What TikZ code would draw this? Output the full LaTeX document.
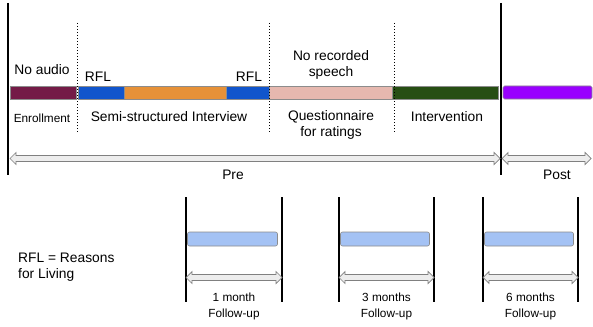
\documentclass[tikz,border=0pt]{standalone}
\usepackage{fontspec}
\setmainfont{Liberation Sans}
\usepackage{tikz}
\usetikzlibrary{positioning}

\definecolor{enrcol}{HTML}{741B47}
\definecolor{rflcol}{HTML}{1155CC}
\definecolor{intcol}{HTML}{E69138}
\definecolor{quecol}{HTML}{E6B8AF}
\definecolor{trtcol}{HTML}{274E13}
\definecolor{postcol}{HTML}{9900FF}
\definecolor{fupcol}{HTML}{A4C2F4}

% block arrow with two heads from x=#1 to x=#2 at height #3
\newcommand{\twoway}[3]{%
  \draw[span] (#1,#3) -- (#1+6,#3-6) -- (#1+6,#3-3) -- (#2-6,#3-3) -- (#2-6,#3-6)
    -- (#2,#3) -- (#2-6,#3+6) -- (#2-6,#3+3) -- (#1+6,#3+3) -- (#1+6,#3+6) -- cycle;}

\begin{document}
\begin{tikzpicture}[x=1pt, y=-1pt,
  txt/.style={inner sep=0pt, font=\fontsize{13.8}{16}\selectfont, align=center},
  small/.style={inner sep=0pt, font=\fontsize{11.8}{16}\selectfont, align=center},
  seg/.style={draw=black!45, line width=0.6pt},
  span/.style={draw=black!50, fill=black!7, line width=0.7pt, line join=miter},
  phase/.style={line width=1.2pt},
  split/.style={dotted, line width=1pt}]
  \useasboundingbox (0,0) rectangle (593,326);

  % timeline bar
  \draw[seg, fill=enrcol] (10,86) rectangle (76,99);
  \draw[seg, fill=rflcol] (78,86) rectangle (124,99);
  \draw[seg, fill=intcol] (124,86) rectangle (226,99);
  \draw[seg, fill=rflcol] (226,86) rectangle (269,99);
  \draw[seg, fill=quecol] (269,86) rectangle (392,99);
  \draw[seg, fill=trtcol] (392,86) rectangle (498,99);
  \draw[seg, fill=postcol, rounded corners=1.5pt] (503,86) rectangle (592,99);

  % phase borders
  \coordinate (s1) at (8,3);
  \coordinate (e1) at (8,175);
  \coordinate (s2) at (501,3);
  \coordinate (e2) at (501,175);
  \draw[phase] (s1) -- (e1);
  \draw[phase] (s2) -- (e2);
  \coordinate (d1a) at (77,23);
  \coordinate (d1b) at (77,132);
  \coordinate (d2a) at (269,23);
  \coordinate (d2b) at (269,132);
  \coordinate (d3a) at (394,23);
  \coordinate (d3b) at (394,132);
  \draw[split] (d1a) -- (d1b);
  \draw[split] (d2a) -- (d2b);
  \draw[split] (d3a) -- (d3b);

  % labels
  \node[txt] (noaud) at (42,70) {No audio};
  \node[txt] (rfl1) at (98,77) {RFL};
  \node[txt] (rfl2) at (249,77) {RFL};
  \node[txt] (norec) at (331,65) {No recorded\\speech};
  \node[small] (enr) at (42,118) {Enrollment};
  \node[txt] (semi) at (169,117) {Semi-structured Interview};
  \node[txt] (quest) at (331,125) {Questionnaire\\for ratings};
  \node[txt] (interv) at (447,117) {Intervention};

  % pre / post spans
  \twoway{10}{500}{158.5}
  \twoway{502}{591}{158.5}
  \node[txt] (prel) at (233,175) {Pre};
  \node[txt] (postl) at (557,175) {Post};

  \node[txt, align=left, anchor=west] (key) at (18,267) {RFL = Reasons\\for Living};

  % follow-ups
  \foreach \name/\xa/\xb/\lbl in {fa/186/282/1 month, fb/339/434/3 months, fc/483/578/6 months} {
    \coordinate (\name top1) at (\xa,197);
    \coordinate (\name bot1) at (\xa,302);
    \coordinate (\name top2) at (\xb,197);
    \coordinate (\name bot2) at (\xb,302);
    \draw[phase] (\name top1) -- (\name bot1);
    \draw[phase] (\name top2) -- (\name bot2);
    \draw[seg, fill=fupcol, rounded corners=2pt] (\xa+1.5,232) rectangle (\xb-4.5,246);
    \twoway{\xa}{\xb}{277.5}
    \node[small] (\name lbl) at ({(\xa+\xb)/2},306) {\lbl\\Follow-up};
  }
\end{tikzpicture}
\end{document}
